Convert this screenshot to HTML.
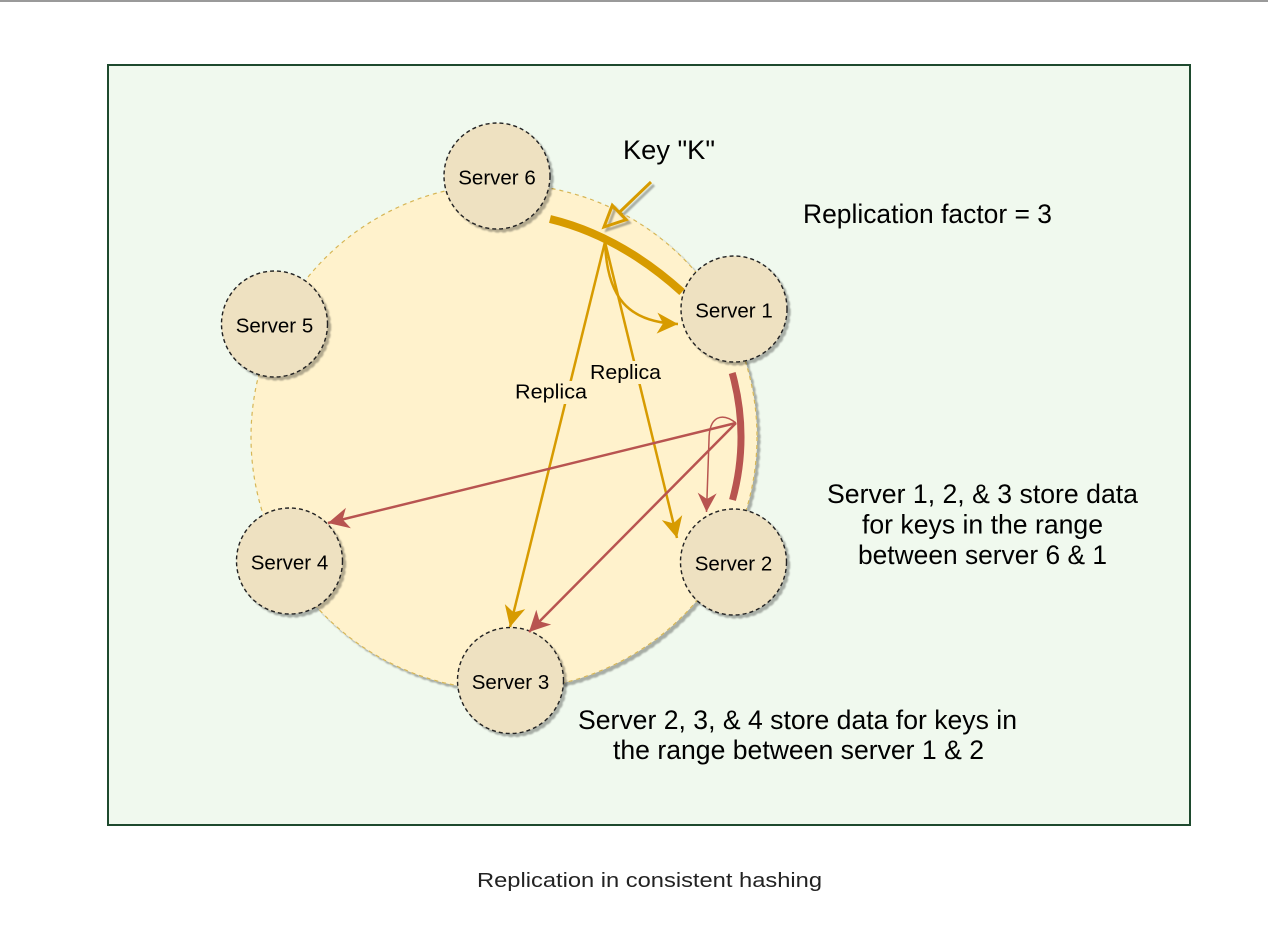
<!DOCTYPE html>
<html>
<head>
<meta charset="utf-8">
<style>
  html, body { margin: 0; padding: 0; background: #ffffff; }
  body { width: 1268px; height: 926px; overflow: hidden; }
  svg { display: block; }
  .t { font-family: "Liberation Sans", Arial, sans-serif; fill: #000; }
</style>
</head>
<body>
<svg width="1268" height="926" viewBox="0 0 1268 926" xmlns="http://www.w3.org/2000/svg">
  <defs>
    <filter id="sh" x="-20%" y="-20%" width="140%" height="140%">
      <feDropShadow dx="3" dy="3" stdDeviation="0.8" flood-color="#000" flood-opacity="0.3"/>
    </filter>
    <marker id="ag" viewBox="-23 -12 25 24" refX="0" refY="0" markerWidth="25" markerHeight="24" markerUnits="userSpaceOnUse" orient="auto">
      <path d="M0,0 L-21,-10.5 L-15,0 L-21,10.5 Z" fill="#D79B00"/>
    </marker>
    <marker id="ar" viewBox="-23 -12 25 24" refX="0" refY="0" markerWidth="25" markerHeight="24" markerUnits="userSpaceOnUse" orient="auto">
      <path d="M0,0 L-21,-10.5 L-15,0 L-21,10.5 Z" fill="#B85450"/>
    </marker>
    <marker id="ar2" viewBox="-23 -12 25 24" refX="0" refY="0" markerWidth="25" markerHeight="24" markerUnits="userSpaceOnUse" orient="auto">
      <path d="M0,0 L-19,-9.5 L-13,0 L-19,9.5 Z" fill="#B85450"/>
    </marker>
  </defs>

  <!-- top gray line -->
  <rect x="0" y="0" width="1268" height="2" fill="#9a9a9a"/>

  <!-- container -->
  <rect x="108" y="65" width="1082" height="760" fill="#F0F9EE" stroke="#1E4A2E" stroke-width="2"/>

  <!-- big ring -->
  <circle cx="504" cy="437" r="253" fill="#FFF2CC" stroke="#D6B656" stroke-width="1.2" stroke-dasharray="4 4" filter="url(#sh)"/>

  <!-- servers -->
  <g filter="url(#sh)">
    <circle cx="497" cy="176" r="53" fill="#EEE1C1" stroke="#222" stroke-width="1.4" stroke-dasharray="4 3"/>
    <circle cx="734" cy="309" r="53" fill="#EEE1C1" stroke="#222" stroke-width="1.4" stroke-dasharray="4 3"/>
    <circle cx="274.5" cy="324" r="53" fill="#EEE1C1" stroke="#222" stroke-width="1.4" stroke-dasharray="4 3"/>
    <circle cx="289.5" cy="561" r="53" fill="#EEE1C1" stroke="#222" stroke-width="1.4" stroke-dasharray="4 3"/>
    <circle cx="510.5" cy="680.5" r="53" fill="#EEE1C1" stroke="#222" stroke-width="1.4" stroke-dasharray="4 3"/>
    <circle cx="733.5" cy="562" r="53" fill="#EEE1C1" stroke="#222" stroke-width="1.4" stroke-dasharray="4 3"/>
  </g>

  <text class="t" x="497" y="184.5" font-size="20.5" text-anchor="middle">Server 6</text>
  <text class="t" x="734" y="317.5" font-size="20.5" text-anchor="middle">Server 1</text>
  <text class="t" x="274.5" y="332.5" font-size="20.5" text-anchor="middle">Server 5</text>
  <text class="t" x="289.5" y="569.5" font-size="20.5" text-anchor="middle">Server 4</text>
  <text class="t" x="510.5" y="689" font-size="20.5" text-anchor="middle">Server 3</text>
  <text class="t" x="733.5" y="570.5" font-size="20.5" text-anchor="middle">Server 2</text>

  <!-- thick arcs -->
  <path d="M550,219 Q620,236 682,292" fill="none" stroke="#D79B00" stroke-width="8"/>
  <path d="M732.2,373 A237,237 0 0 1 732.5,500" fill="none" stroke="#B85450" stroke-width="7"/>

  <!-- gold replica arrows -->
  <line x1="605" y1="242" x2="510" y2="627" stroke="#D79B00" stroke-width="2.5" marker-end="url(#ag)"/>
  <line x1="605" y1="242" x2="677" y2="538" stroke="#D79B00" stroke-width="2.5" marker-end="url(#ag)"/>
  <path d="M605,242 C607,298 628,322 678,324" fill="none" stroke="#D79B00" stroke-width="2.5" marker-end="url(#ag)"/>

  <!-- red arrows -->
  <line x1="736" y1="423" x2="328" y2="523" stroke="#B85450" stroke-width="2.5" marker-end="url(#ar)"/>
  <line x1="736" y1="423" x2="529" y2="632" stroke="#B85450" stroke-width="2.5" marker-end="url(#ar)"/>
  <path d="M736,423 C722,412 709,416 709,440 L706.5,512" fill="none" stroke="#B85450" stroke-width="1.5" marker-end="url(#ar2)"/>

  <!-- key arrow -->
  <g filter="url(#sh)">
    <line x1="651" y1="182" x2="619.2" y2="212.5" stroke="#D79B00" stroke-width="3"/>
    <polygon points="604,227 626.1,219.7 612.3,205.3" fill="none" stroke="#D79B00" stroke-width="3" stroke-linejoin="miter"/>
  </g>

  <!-- replica labels -->
  <rect x="588" y="361" width="75" height="23" fill="#FFF2CC"/>
  <text class="t" x="590" y="379" font-size="20.5" textLength="71" lengthAdjust="spacingAndGlyphs">Replica</text>
  <rect x="513" y="381" width="76" height="23" fill="#FFF2CC"/>
  <text class="t" x="515" y="398.5" font-size="20.5" textLength="72" lengthAdjust="spacingAndGlyphs">Replica</text>

  <!-- annotations -->
  <text class="t" x="623" y="159" font-size="26.5" textLength="92" lengthAdjust="spacingAndGlyphs">Key &quot;K&quot;</text>
  <text class="t" x="803" y="223" font-size="26.5" textLength="249" lengthAdjust="spacingAndGlyphs">Replication factor = 3</text>

  <text class="t" x="827" y="503" font-size="26.5" textLength="311" lengthAdjust="spacingAndGlyphs">Server 1, 2, &amp; 3 store data</text>
  <text class="t" x="862" y="533.5" font-size="26.5" textLength="241" lengthAdjust="spacingAndGlyphs">for keys in the range</text>
  <text class="t" x="858" y="564" font-size="26.5" textLength="249" lengthAdjust="spacingAndGlyphs">between server 6 &amp; 1</text>

  <text class="t" x="578" y="729" font-size="26.5" textLength="439" lengthAdjust="spacingAndGlyphs">Server 2, 3, &amp; 4 store data for keys in</text>
  <text class="t" x="613" y="759" font-size="26.5" textLength="371" lengthAdjust="spacingAndGlyphs">the range between server 1 &amp; 2</text>

  <!-- caption -->
  <text x="477" y="887" font-size="20" fill="#222" font-family="Liberation Sans, Arial, sans-serif" textLength="345" lengthAdjust="spacingAndGlyphs">Replication in consistent hashing</text>
</svg>
</body>
</html>
